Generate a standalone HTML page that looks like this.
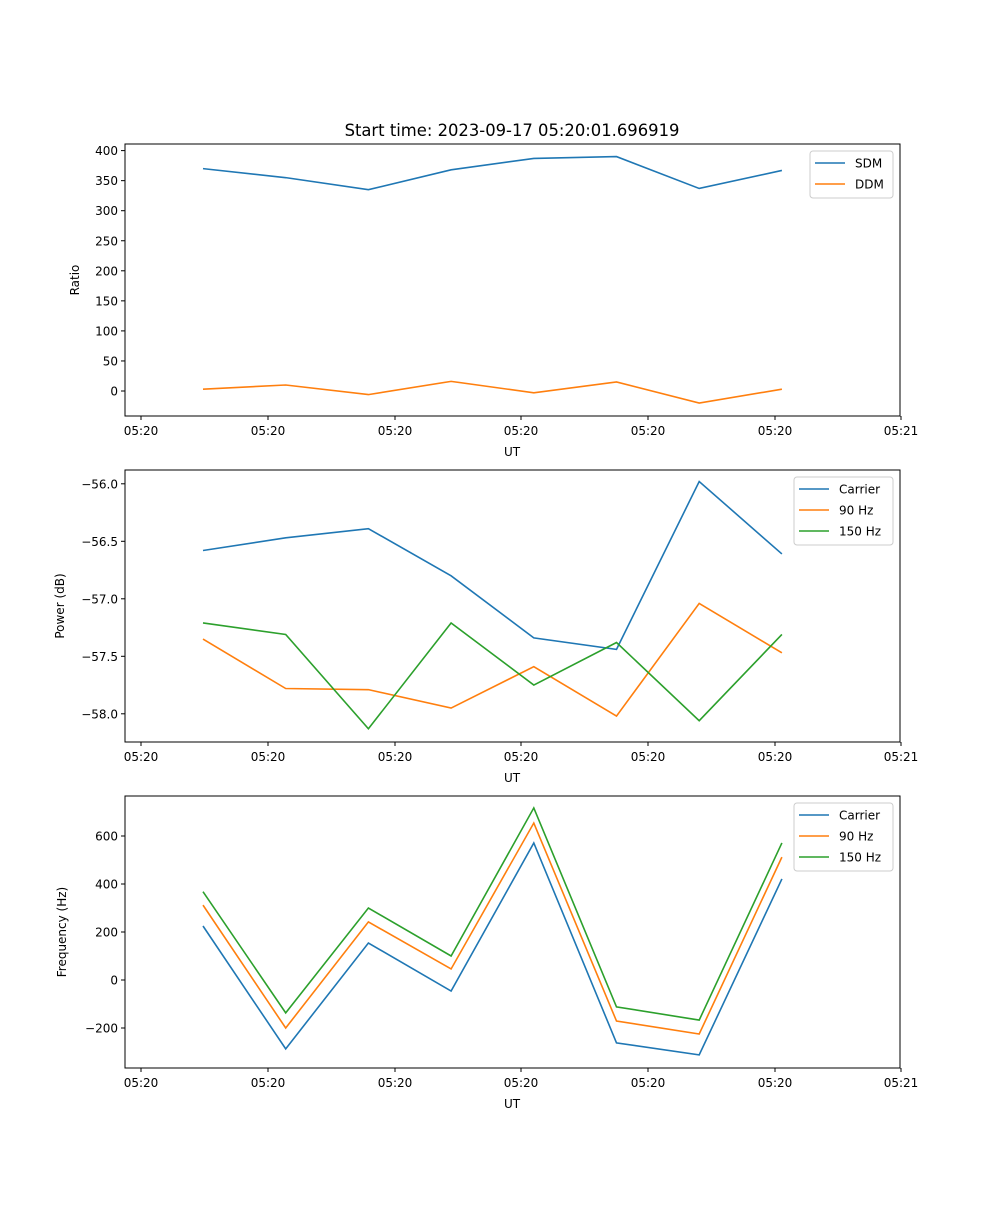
<!DOCTYPE html>
<html><head><meta charset="utf-8"><style>
body{margin:0;background:#fff;}
svg text{font-family:"DejaVu Sans","Liberation Sans",sans-serif;font-size:12px;fill:#000;}
</style></head><body>
<svg id="fig" width="1000" height="1200" xmlns="http://www.w3.org/2000/svg">
<text x="512" y="136" text-anchor="middle" style="font-size:16.4px">Start time: 2023-09-17 05:20:01.696919</text>
</svg>
<script>
const xIdx = [0,1,2,3,4,5,6,7];
const xTickLabels = ["05:20","05:20","05:20","05:20","05:20","05:20","05:21"];
const sdm = [370,355,335,368,387,390,337,367];
const ddm = [3,10,-6,16,-3,15,-20,3];
const pCarrier = [-56.58,-56.47,-56.39,-56.80,-57.34,-57.44,-55.98,-56.61];
const p90 = [-57.35,-57.78,-57.79,-57.95,-57.59,-58.02,-57.04,-57.47];
const p150 = [-57.21,-57.31,-58.13,-57.21,-57.75,-57.38,-58.06,-57.31];
const fCarrier = [225,-287,154,-46,571,-262,-312,421];
const f90 = [312,-200,242,46,654,-171,-225,512];
const f150 = [368,-137,300,100,717,-112,-167,571];
const ratioTicks = [0,50,100,150,200,250,300,350,400];
const powerTicks = [-58.0,-57.5,-57.0,-56.5,-56.0];
const freqTicks = [-200,0,200,400,600];

const NS="http://www.w3.org/2000/svg";
const svg=document.getElementById('fig');
const C={blue:'#1f77b4',orange:'#ff7f0e',green:'#2ca02c'};
function mk(tag,attrs,parent){const e=document.createElementNS(NS,tag);for(const k in attrs)e.setAttribute(k,attrs[k]);(parent||svg).appendChild(e);return e;}
const L=125,R=900;
function xs(i){return 203+i*82.7;}
const xTickPos=[141,268,395,521,648,775,901];

function panel(name,top,bottom,yf,ticks,fmt,ylabel,series,leg){
  const g=mk('g',{});
  
  
  mk('rect',{x:L,y:top,width:R-L,height:bottom-top,fill:'none',stroke:'#000','stroke-width':1},g);
  ticks.forEach(v=>{const y=yf(v);
    mk('line',{x1:L-4,x2:L,y1:y,y2:y,stroke:'#000'},g);
    const t=mk('text',{x:L-7,y:y+4.5,'text-anchor':'end'},g);t.textContent=fmt(v);
    
    });
  xTickLabels.forEach((lab,i)=>{const x=xTickPos[i];
    mk('line',{x1:x,x2:x,y1:bottom,y2:bottom+4,stroke:'#000'},g);
    const t=mk('text',{x:x,y:bottom+19,'text-anchor':'middle'},g);t.textContent=lab;
    
    });
  const xl=mk('text',{x:512,y:bottom+40,'text-anchor':'middle'},g);xl.textContent='UT';
  
  
  const cy=(top+bottom)/2;
  const yl=mk('text',{x:0,y:0,'text-anchor':'middle',transform:`translate(${ylabel[1]},${cy}) rotate(-90)`},g);yl.textContent=ylabel[0];
  
  
  series.forEach(s=>{
    const p=mk('polyline',{points:s.v.map((v,i)=>xs(xIdx[i])+','+yf(v)).join(' '),fill:'none',stroke:s.c,'stroke-width':1.6},g);
    
    });
  const lg=mk('g',{},g);
  
  
  mk('rect',{x:leg[0],y:top+7,width:R-7-leg[0],height:series.length*21+5,rx:3,fill:'#fff','fill-opacity':0.8,stroke:'#ccc'},lg);
  series.forEach((s,i)=>{const y=top+19+i*21;
    mk('line',{x1:leg[0]+5,x2:leg[0]+35,y1:y,y2:y,stroke:s.c,'stroke-width':1.6},lg);
    const t=mk('text',{x:leg[0]+45,y:y+4.5},lg);t.textContent=s.n;
    
    });
}
panel('ratio-panel',144,416,v=>391-v*0.601,ratioTicks,v=>String(v),['Ratio',79],
  [{n:'SDM',v:sdm,c:C.blue},{n:'DDM',v:ddm,c:C.orange}],[810]);
panel('power-panel',470,742,v=>541.3-(v+56.5)*115,powerTicks,v=>'\u2212'+Math.abs(v).toFixed(1),['Power (dB)',64],
  [{n:'Carrier',v:pCarrier,c:C.blue},{n:'90 Hz',v:p90,c:C.orange},{n:'150 Hz',v:p150,c:C.green}],[794]);
panel('frequency-panel',796,1068,v=>980-v*0.24,freqTicks,v=>(v<0?'\u2212':'')+Math.abs(v),['Frequency (Hz)',66],
  [{n:'Carrier',v:fCarrier,c:C.blue},{n:'90 Hz',v:f90,c:C.orange},{n:'150 Hz',v:f150,c:C.green}],[794]);
</script>
</body></html>
